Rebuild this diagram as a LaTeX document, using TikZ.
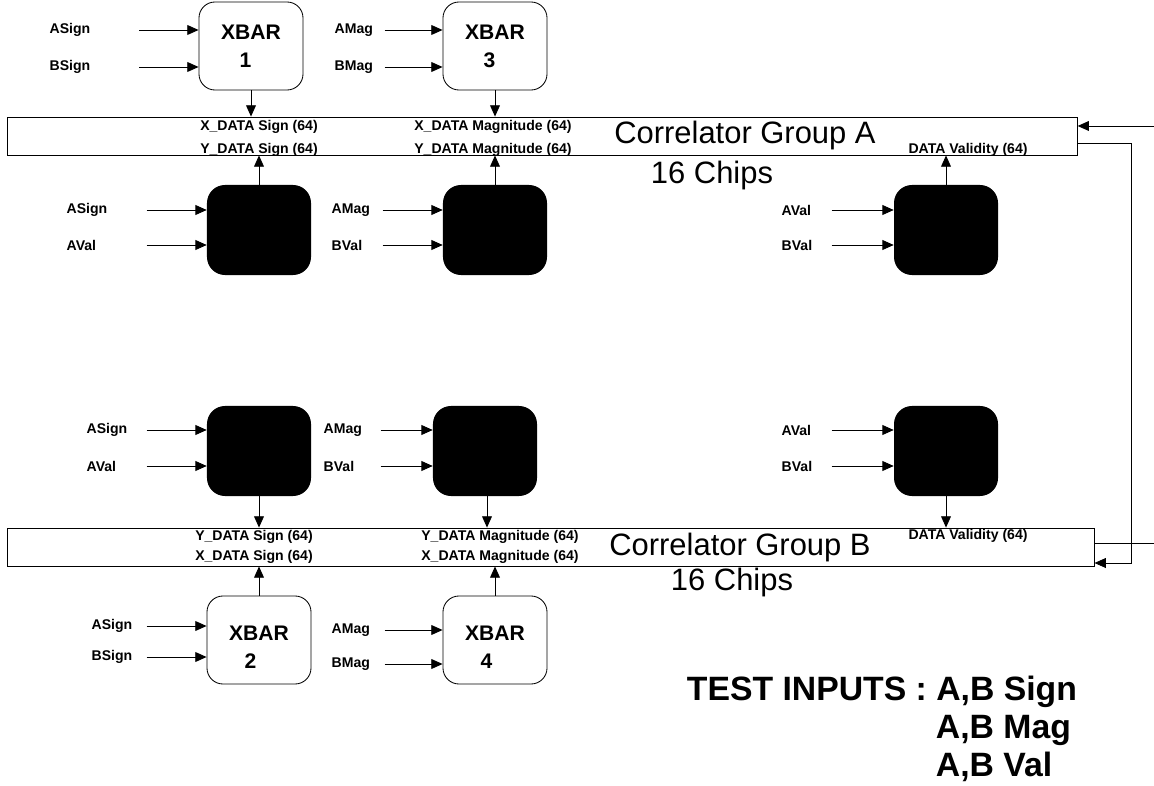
\documentclass[tikz,border=0pt]{standalone}
\usepackage{fontspec}
\setmainfont{Liberation Sans}
\usepackage{tikz}
\usetikzlibrary{arrows.meta,positioning}
\tikzstyle{xbar} = [rectangle, rounded corners=0.4cm, draw, line width=0.6pt, minimum width=2.6cm, minimum height=2.2cm, align=center, font=\bfseries\fontsize{15}{20}\selectfont]
\tikzstyle{chip} = [rectangle, rounded corners=0.45cm, fill=black, minimum width=2.6cm, minimum height=2.25cm]
\tikzstyle{bus} = [rectangle, draw, line width=0.6pt, minimum height=0.95cm]
\tikzstyle{sig} = [font=\bfseries\fontsize{10}{12}\selectfont, inner sep=1pt]
\tikzstyle{big} = [font=\fontsize{22}{26}\selectfont]
\tikzstyle{note} = [anchor=west, font=\bfseries\fontsize{24}{28}\selectfont]
\tikzstyle{arrow} = [line width=0.6pt, -{Triangle[length=8pt,width=7pt]}]

\begin{document}
\begin{tikzpicture}[x=0.025cm,y=-0.025cm]
\useasboundingbox (0,0) rectangle (1154,786);

\node[xbar] (x1) at (251,46) {XBAR\\\hspace*{-8pt}1};
\node[xbar] (x3) at (495,46) {XBAR\\\hspace*{-8pt}3};
\node[bus, minimum width=26.73cm] (busA) at (542.5,136) {};
\node[chip] (a1) at (259,230) {};
\node[chip] (a2) at (495,230) {};
\node[chip] (a3) at (946,230) {};
\node[chip] (b1) at (259,451) {};
\node[chip] (b2) at (485,451) {};
\node[chip] (b3) at (946,451) {};
\node[bus, minimum width=27.15cm] (busB) at (551,547) {};
\node[xbar] (x2) at (259,640) {\rule{0pt}{20pt}XBAR\\\hspace*{-12pt}2};
\node[xbar] (x4) at (495,640) {\rule{0pt}{20pt}XBAR\\\hspace*{-12pt}4};

\node[sig] (xsA) at (259,127) {X\_DATA Sign (64)};
\node[sig] (ysA) at (259,150) {Y\_DATA Sign (64)};
\node[sig] (xmA) at (493,127) {X\_DATA Magnitude (64)};
\node[sig] (ymA) at (493,150) {Y\_DATA Magnitude (64)};
\node[sig] (dvA) at (968,150) {DATA Validity (64)};
\node[big] (grpA) at (745,136) {Correlator Group A};
\node[big] (chA) at (712,176) {16 Chips};

\node[sig] (ysB) at (254,537) {Y\_DATA Sign (64)};
\node[sig] (xsB) at (254,557) {X\_DATA Sign (64)};
\node[sig] (ymB) at (500,537) {Y\_DATA Magnitude (64)};
\node[sig] (xmB) at (500,557) {X\_DATA Magnitude (64)};
\node[sig] (dvB) at (968,536) {DATA Validity (64)};
\node[big] (grpB) at (740,547) {Correlator Group B};
\node[big] (chB) at (732,582) {16 Chips};

\node[sig, anchor=west] (i1) at (48,30) {ASign};
\node[sig, anchor=west] (i2) at (48,67) {BSign};
\node[sig, anchor=west] (i3) at (333,30) {AMag};
\node[sig, anchor=west] (i4) at (333,67) {BMag};
\node[sig, anchor=west] (j1) at (65,210) {ASign};
\node[sig, anchor=west] (j2) at (65,245) {AVal};
\node[sig, anchor=west] (j3) at (330,210) {AMag};
\node[sig, anchor=west] (j4) at (330,245) {BVal};
\node[sig, anchor=west] (j5) at (780,210) {AVal};
\node[sig, anchor=west] (j6) at (780,245) {BVal};
\node[sig, anchor=west] (k1) at (85,430) {ASign};
\node[sig, anchor=west] (k2) at (85,466) {AVal};
\node[sig, anchor=west] (k3) at (322,430) {AMag};
\node[sig, anchor=west] (k4) at (322,466) {BVal};
\node[sig, anchor=west] (k5) at (780,430) {AVal};
\node[sig, anchor=west] (k6) at (780,466) {BVal};
\node[sig, anchor=west] (m1) at (90,626) {ASign};
\node[sig, anchor=west] (m2) at (90,657) {BSign};
\node[sig, anchor=west] (m3) at (330,630) {AMag};
\node[sig, anchor=west] (m4) at (330,664) {BMag};

\node[note] (t1) at (682,692) {TEST INPUTS : A,B Sign};
\node[note] (t2) at (931,730) {A,B Mag};
\node[note] (t3) at (931,767) {A,B Val};

\draw[arrow] ([xshift=-1.48cm]x1.west |- i1) -- (x1.west |- i1);
\draw[arrow] ([xshift=-1.48cm]x1.west |- i2) -- (x1.west |- i2);
\draw[arrow] ([xshift=-1.45cm]x3.west |- i3) -- (x3.west |- i3);
\draw[arrow] ([xshift=-1.45cm]x3.west |- i4) -- (x3.west |- i4);
\draw[arrow] ([xshift=-1.5cm]a1.west |- j1) -- (a1.west |- j1);
\draw[arrow] ([xshift=-1.5cm]a1.west |- j2) -- (a1.west |- j2);
\draw[arrow] ([xshift=-1.5cm]a2.west |- j3) -- (a2.west |- j3);
\draw[arrow] ([xshift=-1.5cm]a2.west |- j4) -- (a2.west |- j4);
\draw[arrow] ([xshift=-1.55cm]a3.west |- j5) -- (a3.west |- j5);
\draw[arrow] ([xshift=-1.55cm]a3.west |- j6) -- (a3.west |- j6);
\draw[arrow] ([xshift=-1.5cm]b1.west |- k1) -- (b1.west |- k1);
\draw[arrow] ([xshift=-1.5cm]b1.west |- k2) -- (b1.west |- k2);
\draw[arrow] ([xshift=-1.3cm]b2.west |- k3) -- (b2.west |- k3);
\draw[arrow] ([xshift=-1.3cm]b2.west |- k4) -- (b2.west |- k4);
\draw[arrow] ([xshift=-1.55cm]b3.west |- k5) -- (b3.west |- k5);
\draw[arrow] ([xshift=-1.55cm]b3.west |- k6) -- (b3.west |- k6);
\draw[arrow] ([xshift=-1.5cm]x2.west |- m1) -- (x2.west |- m1);
\draw[arrow] ([xshift=-1.5cm]x2.west |- m2) -- (x2.west |- m2);
\draw[arrow] ([xshift=-1.45cm]x4.west |- m3) -- (x4.west |- m3);
\draw[arrow] ([xshift=-1.45cm]x4.west |- m4) -- (x4.west |- m4);

\draw[arrow] (x1) -- (x1 |- busA.north);
\draw[arrow] (x3) -- (x3 |- busA.north);
\draw[arrow] (a1) -- (a1 |- busA.south);
\draw[arrow] (a2) -- (a2 |- busA.south);
\draw[arrow] (a3) -- (a3 |- busA.south);
\draw[arrow] (b1) -- (b1 |- busB.north);
\draw[arrow] ([xshift=0.05cm]b2.south) -- ([xshift=0.05cm]b2.south |- busB.north);
\draw[arrow] (b3) -- (b3 |- busB.north);
\draw[arrow] (x2) -- (x2 |- busB.south);
\draw[arrow] (x4) -- (x4 |- busB.south);

\coordinate (inA) at (1154,126);
\coordinate (inB) at (1154,543);
\coordinate (loop) at (1131,563);
\draw[arrow] (inA) -- (inA -| busA.east);
\draw[arrow] ([yshift=-0.18cm]busA.east) -| (loop) -- (loop -| busB.east);
\draw[line width=0.6pt] (inB) -- (inB -| busB.east);
\end{tikzpicture}
\end{document}
